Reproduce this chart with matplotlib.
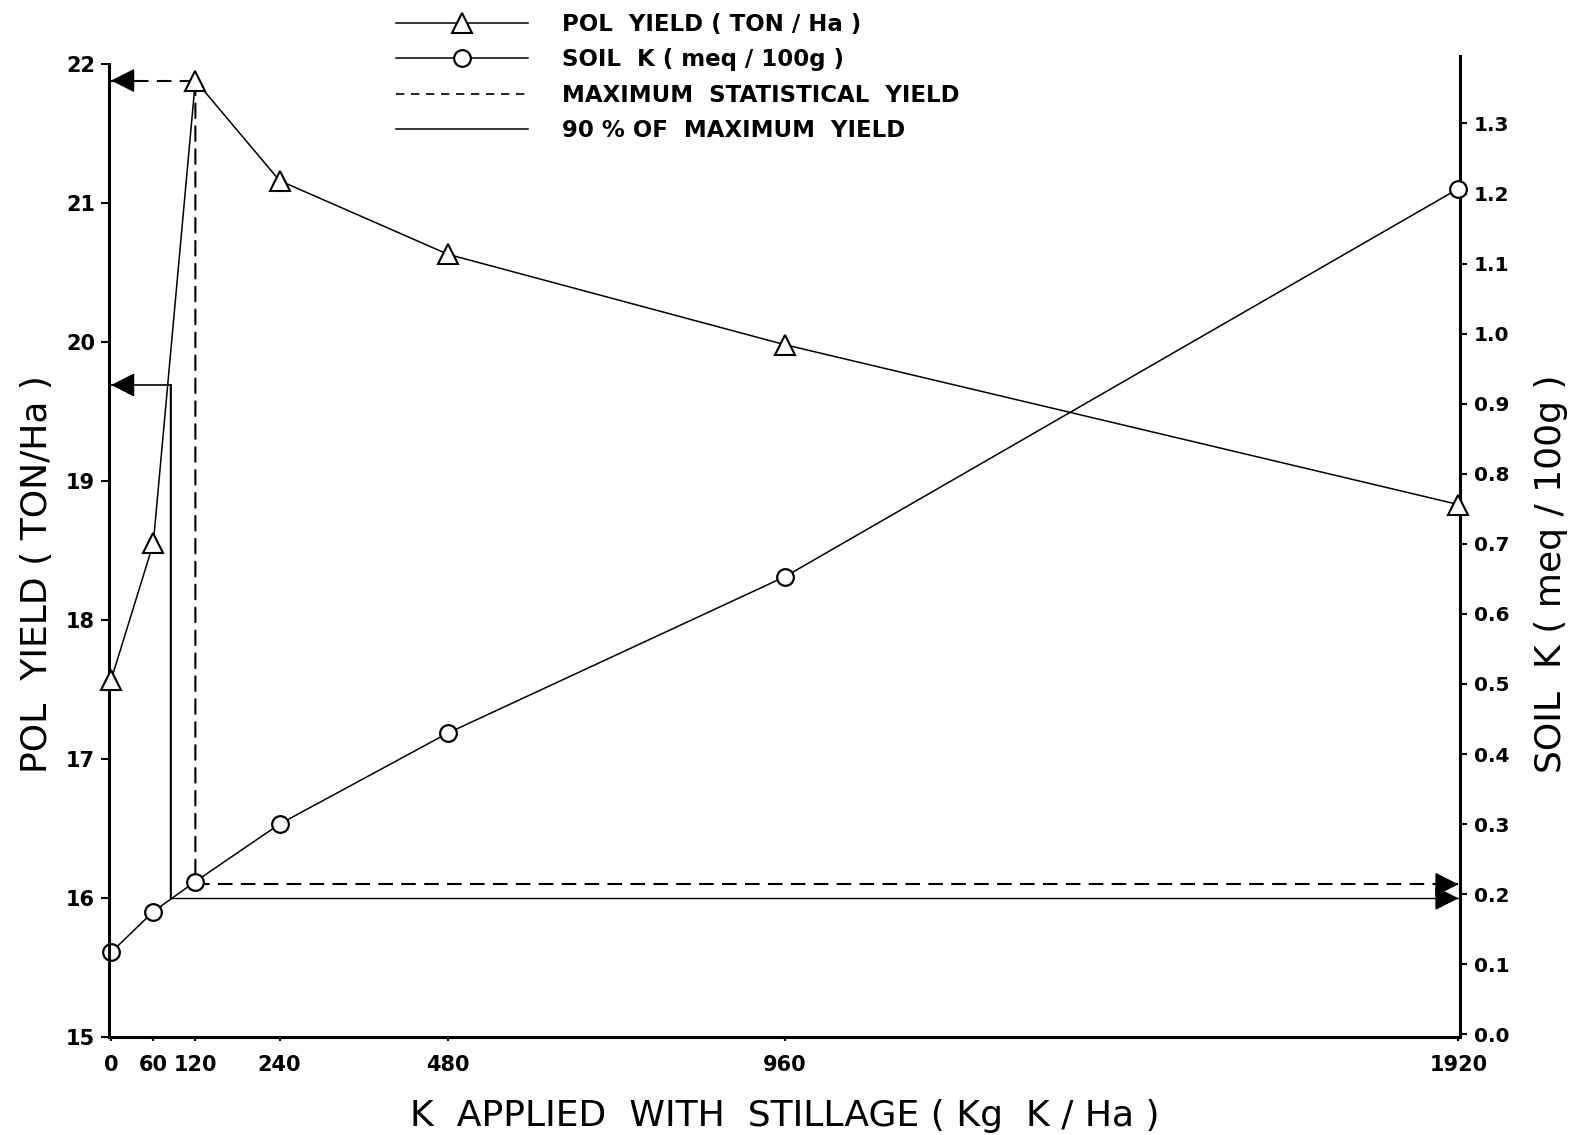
import matplotlib
matplotlib.use("Agg")
import matplotlib.pyplot as plt
from matplotlib.lines import Line2D
from matplotlib.patches import ConnectionPatch

# ---- data ----
k_rates = [0, 60, 120, 240, 480, 960, 1920]
k_tick_labels = ["0", "60", "120", "240", "480", "960", "1920"]
pol_yield = [17.57, 18.55, 21.88, 21.16, 20.63, 19.98, 18.83]
soil_k = [0.117, 0.175, 0.218, 0.300, 0.430, 0.653, 1.207]

yield_ticks = [15, 16, 17, 18, 19, 20, 21, 22]
soilk_ticks = [0.0, 0.1, 0.2, 0.3, 0.4, 0.5, 0.6, 0.7, 0.8, 0.9, 1.0, 1.1, 1.2, 1.3]

# maximum statistical yield and 90 % of maximum
max_yield = 21.88
rate_at_max = 120
soilk_at_max = 0.214
ninety_yield = 19.69
rate_at_ninety = 85
soilk_at_ninety = 0.194

legend_labels = ["POL  YIELD ( TON / Ha )", "SOIL  K ( meq / 100g )",
                 "MAXIMUM  STATISTICAL  YIELD", "90 % OF  MAXIMUM  YIELD"]

plt.rcParams["font.family"] = ["DejaVu Sans"]

fig = plt.figure(figsize=(15.83, 11.35), dpi=100)
ax = fig.add_axes([0.0689, 0.0863, 0.8533, 0.8648])
ax2 = ax.twinx()
ax.set_zorder(ax2.get_zorder() + 1)
ax.patch.set_visible(False)

lw_data = 1.1
ax.plot(k_rates, pol_yield, color="black", lw=lw_data, marker="^", ms=15,
        mfc="white", mec="black", mew=1.5, zorder=5, clip_on=False)
ax2.plot(k_rates, soil_k, color="black", lw=lw_data, marker="o", ms=12,
         mfc="white", mec="black", mew=1.6, zorder=5, clip_on=False)

ax.set_xlim(-3, 1922)
ax.set_ylim(15, 22.06)
ax2.set_ylim(-0.004, 1.397)

dash = (0, (7, 4))
arrow_style = "-|>,head_length=0.75,head_width=0.38"

def arrow(axis, x, y, dx):
    axis.annotate("", xy=(x, y), xytext=(dx, 0), textcoords="offset points",
                  arrowprops=dict(arrowstyle=arrow_style, mutation_scale=20,
                                  color="black", lw=1.0, shrinkA=0, shrinkB=0),
                  annotation_clip=False)

# maximum statistical yield (dashed)
ax.plot([0, rate_at_max], [max_yield, max_yield], color="black", lw=1.5, ls=dash, zorder=2)
arrow(ax, 0, max_yield, 16)
cp = ConnectionPatch(xyA=(rate_at_max, max_yield), coordsA=ax.transData,
                     xyB=(rate_at_max, soilk_at_max), coordsB=ax2.transData,
                     color="black", lw=1.5, ls=dash, zorder=2)
ax2.add_artist(cp)
ax2.plot([rate_at_max, 1920], [soilk_at_max, soilk_at_max], color="black", lw=1.5, ls=dash, zorder=2)
arrow(ax2, 1920, soilk_at_max, -16)

# 90 % of maximum yield (solid)
ax.plot([0, rate_at_ninety], [ninety_yield, ninety_yield], color="black", lw=1.2, zorder=2)
arrow(ax, 0, ninety_yield, 16)
cp2 = ConnectionPatch(xyA=(rate_at_ninety, ninety_yield), coordsA=ax.transData,
                      xyB=(rate_at_ninety, soilk_at_ninety), coordsB=ax2.transData,
                      color="black", lw=1.5, zorder=2)
ax2.add_artist(cp2)
ax2.plot([rate_at_ninety, 1920], [soilk_at_ninety, soilk_at_ninety], color="black", lw=1.0, zorder=2)
arrow(ax2, 1920, soilk_at_ninety, -16)

# axes styling
for a in (ax, ax2):
    a.spines["top"].set_visible(False)
ax.spines["right"].set_visible(False)
ax2.spines["left"].set_visible(False)
ax2.spines["bottom"].set_visible(False)
ax.spines["left"].set_bounds(15, 22)
for s in ("left", "bottom"):
    ax.spines[s].set_linewidth(2.2)
ax2.spines["right"].set_linewidth(2.2)

ax.set_xticks(k_rates)
ax.set_xticklabels(k_tick_labels)
ax.set_yticks(yield_ticks)
ax.set_yticklabels([str(v) for v in yield_ticks])
ax2.set_yticks(soilk_ticks)
ax2.set_yticklabels([f"{v:.1f}" for v in soilk_ticks])

ax.tick_params(axis="y", direction="out", length=6, width=1.5, pad=4,
               labelsize=15)
ax.tick_params(axis="x", direction="out", length=3, width=1.5, pad=10,
               labelsize=15)
ax2.tick_params(axis="y", direction="out", length=5, width=1.5, pad=5,
                labelsize=14.5)
for lab in ax.get_xticklabels() + ax.get_yticklabels() + ax2.get_yticklabels():
    lab.set_fontweight("bold")

ax.set_xlabel("K  APPLIED  WITH  STILLAGE ( Kg  K / Ha )", fontsize=26, labelpad=17)
ax.set_ylabel("POL  YIELD ( TON/Ha )", fontsize=26)
ax2.set_ylabel("SOIL  K ( meq / 100g )", fontsize=26)
ax.yaxis.set_label_coords(-0.041, 0.472)
ax2.yaxis.set_label_coords(1.055, 0.472)

handles = [
    Line2D([], [], color="black", lw=1.1, marker="^", ms=15, mfc="white", mec="black", mew=1.5),
    Line2D([], [], color="black", lw=1.1, marker="o", ms=12, mfc="white", mec="black", mew=1.6),
    Line2D([], [], color="black", lw=1.2, ls=(0, (5, 4))),
    Line2D([], [], color="black", lw=1.1),
]
leg = fig.legend(handles, legend_labels, loc="upper left",
                 bbox_to_anchor=(0.24, 1.003), frameon=False, numpoints=1,
                 handlelength=5.75, handletextpad=1.5, labelspacing=0.55,
                 borderpad=0.2, prop={"size": 16.5, "weight": "bold"})

fig.savefig("out.png", dpi=100)
